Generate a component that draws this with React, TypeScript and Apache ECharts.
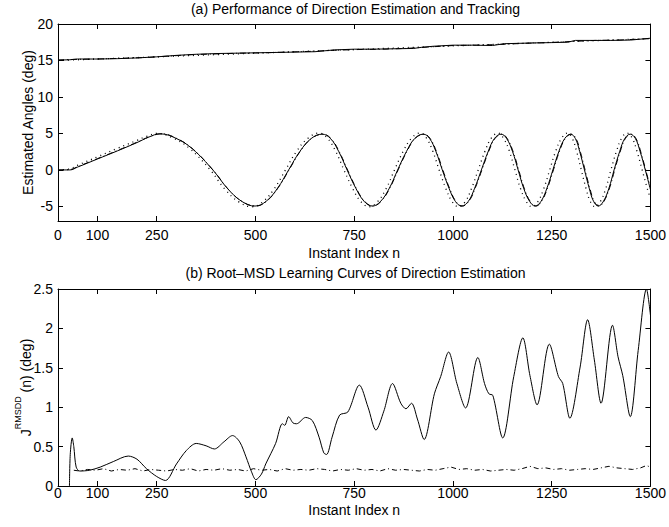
import React, { useEffect, useRef } from 'react';
import * as echarts from 'echarts';

const FONT = '"Liberation Sans", Arial, Helvetica, sans-serif';

const xTicks = [0, 100, 250, 500, 750, 1000, 1250, 1500];
const yTicksTop = [-5, 0, 5, 10, 15, 20];
const yTicksBottom = [0, 0.5, 1, 1.5, 2, 2.5];

const titleTop = '(a) Performance of Direction Estimation and Tracking';
const titleBottom = '(b) Root\u2013MSD Learning Curves of Direction Estimation';
const xName = 'Instant Index n';
const yNameTop = 'Estimated Angles (deg)';

// upper trajectory (about 15 -> 18 deg)
const upperSolid = [
  [0, 15.05], [30, 15.1], [50, 15.2], [100, 15.2], [150, 15.25], [200, 15.35], [250, 15.5],
  [300, 15.7], [350, 15.85], [400, 15.95], [450, 16.0], [500, 16.05], [550, 16.1], [600, 16.15],
  [650, 16.2], [700, 16.45], [750, 16.55], [800, 16.55], [850, 16.6], [900, 16.65], [920, 16.8],
  [950, 16.95], [1000, 17.1], [1050, 17.1], [1100, 17.05], [1130, 17.3], [1200, 17.4], [1250, 17.45],
  [1290, 17.5], [1310, 17.75], [1400, 17.75], [1450, 17.8], [1500, 18.05],
];
const upperDash = [
  [0, 15.05], [40, 15.15], [100, 15.2], [160, 15.3], [220, 15.4], [280, 15.6], [340, 15.8],
  [400, 15.9], [460, 16.0], [520, 16.05], [580, 16.15], [640, 16.25], [700, 16.4], [760, 16.5],
  [820, 16.55], [880, 16.65], [940, 16.85], [1000, 17.05], [1060, 17.1], [1120, 17.2], [1180, 17.35],
  [1240, 17.45], [1300, 17.6], [1360, 17.75], [1420, 17.8], [1480, 17.95], [1500, 18.0],
];
const upperDot = [
  [0, 15.0], [250, 15.5], [500, 16.0], [750, 16.5], [1000, 17.0], [1250, 17.5], [1500, 18.0],
];

// lower trajectory (oscillating between -5 and 5 deg)
const lowerSolid = [
  [0, 0], [30, 0], [50, 0.4], [100, 1.5], [150, 2.6], [200, 3.75], [230, 4.5], [258, 4.95],
  [300, 4.3], [340, 2.9], [392, 0], [430, -2.6], [465, -4.3], [499, -4.95], [527, -4.3], [556, -2.5],
  [584, 0], [612, 2.5], [641, 4.3], [669, 4.9], [690, 4.3], [711, 2.5], [732, 0], [754, -2.5],
  [775, -4.3], [796, -4.95], [817, -4.3], [839, -2.5], [860, 0], [882, 2.5], [903, 4.3], [925, 4.9],
  [941, 4.3], [957, 2.5], [973, 0], [990, -2.5], [1006, -4.3], [1022, -4.95], [1039, -4.3], [1055, -2.5],
  [1072, 0], [1089, 2.5], [1105, 4.3], [1122, 4.9], [1136, 4.3], [1151, 2.5], [1165, 0], [1179, -2.5],
  [1194, -4.3], [1208, -4.95], [1223, -4.3], [1238, -2.5], [1253, 0], [1268, 2.5], [1283, 4.3], [1298, 4.9],
  [1310, 4.3], [1321, 2.5], [1333, 0], [1345, -2.5], [1356, -4.3], [1368, -4.95], [1381, -4.3], [1395, -2.5],
  [1408, 0], [1422, 2.5], [1435, 4.3], [1449, 4.9], [1462, 4.3], [1474, 2.5], [1487, 0], [1500, -2.7],
];
const lowerDash = [
  [0, 0], [30, 0.05], [50, 0.45], [100, 1.55], [150, 2.65], [200, 3.8], [232, 4.55], [262, 4.95],
  [303, 4.25], [343, 2.8], [394, -0.1], [432, -2.7], [467, -4.35], [501, -4.95], [529, -4.25], [558, -2.4],
  [586, 0.1], [614, 2.6], [643, 4.35], [671, 4.9], [692, 4.25], [713, 2.4], [734, -0.1], [756, -2.6],
  [777, -4.35], [798, -4.95], [819, -4.25], [841, -2.4], [862, 0.1], [884, 2.6], [905, 4.35], [927, 4.9],
  [943, 4.25], [959, 2.4], [975, -0.1], [992, -2.6], [1008, -4.35], [1024, -4.95], [1041, -4.25], [1057, -2.4],
  [1074, 0.1], [1091, 2.6], [1107, 4.35], [1124, 4.9], [1138, 4.25], [1153, 2.4], [1167, -0.1], [1181, -2.6],
  [1196, -4.35], [1210, -4.95], [1225, -4.25], [1240, -2.4], [1255, 0.1], [1270, 2.6], [1285, 4.35], [1300, 4.9],
  [1312, 4.25], [1323, 2.4], [1335, -0.1], [1347, -2.6], [1358, -4.35], [1370, -4.95], [1383, -4.25], [1397, -2.4],
  [1410, 0.1], [1424, 2.6], [1437, 4.35], [1451, 4.9], [1464, 4.25], [1476, 2.4], [1489, -0.2], [1500, -2.4],
];
const lowerDot = [
  [0, 0], [30, 0.15], [50, 0.65], [100, 1.8], [150, 2.95], [200, 4.05], [224, 4.6], [250, 5.0],
  [292, 4.35], [332, 3.0], [384, 0.1], [422, -2.6], [457, -4.35], [491, -5.05], [519, -4.35], [548, -2.55],
  [576, 0], [604, 2.55], [633, 4.35], [661, 5.05], [682, 4.35], [703, 2.55], [724, 0], [746, -2.55],
  [767, -4.35], [788, -5.05], [809, -4.35], [831, -2.55], [852, 0], [874, 2.55], [895, 4.35], [917, 5.05],
  [933, 4.35], [949, 2.55], [965, 0], [982, -2.55], [998, -4.35], [1014, -5.05], [1031, -4.35], [1047, -2.55],
  [1064, 0], [1081, 2.55], [1097, 4.35], [1114, 5.05], [1128, 4.35], [1143, 2.55], [1157, 0], [1171, -2.55],
  [1186, -4.35], [1200, -5.05], [1215, -4.35], [1230, -2.55], [1245, 0], [1260, 2.55], [1275, 4.35], [1290, 5.05],
  [1302, 4.35], [1313, 2.55], [1325, 0], [1337, -2.55], [1348, -4.35], [1360, -5.05], [1373, -4.35], [1387, -2.55],
  [1400, 0], [1414, 2.55], [1427, 4.35], [1441, 5.05], [1454, 4.35], [1466, 2.55], [1479, 0], [1492, -2.55], [1500, -3.9],
];

// root-MSD learning curves
const rmsdSolid = [
  [29, 0], [31, 0.4], [36, 0.61], [40, 0.5], [46, 0.24], [55, 0.19], [80, 0.2], [107, 0.24], [140, 0.31],
  [178, 0.38], [200, 0.34], [224, 0.22], [250, 0.12], [272, 0.07], [300, 0.28], [325, 0.45], [350, 0.54],
  [375, 0.51], [396, 0.47], [420, 0.56], [442, 0.64], [460, 0.56], [476, 0.37], [490, 0.18], [501, 0.08],
  [515, 0.15], [526, 0.28], [551, 0.54], [568, 0.79], [574, 0.77], [584, 0.88], [595, 0.8], [604, 0.79],
  [627, 0.87], [644, 0.83], [661, 0.62], [673, 0.42], [680, 0.4], [694, 0.62], [713, 0.9], [734, 0.94],
  [763, 1.28], [785, 1.0], [805, 0.71], [825, 0.95], [847, 1.3], [868, 1.05], [881, 0.98], [895, 1.05],
  [910, 0.85], [927, 0.59], [953, 1.17], [969, 1.39], [989, 1.7], [1010, 1.3], [1032, 0.99], [1063, 1.63],
  [1080, 1.3], [1091, 1.17], [1101, 1.15], [1126, 0.61], [1154, 1.39], [1177, 1.88], [1195, 1.4], [1213, 1.03],
  [1244, 1.8], [1267, 1.39], [1278, 1.3], [1296, 0.86], [1322, 1.51], [1341, 2.11], [1358, 1.6], [1375, 1.05],
  [1404, 2.04], [1418, 1.64], [1430, 1.4], [1449, 0.88], [1469, 1.72], [1490, 2.5], [1500, 2.17],
];
const rmsdDash = [
  [40, 0.2], [55, 0.19], [75, 0.21], [95, 0.2], [115, 0.22], [135, 0.19], [155, 0.21], [175, 0.2],
  [195, 0.22], [215, 0.19], [235, 0.21], [255, 0.2], [275, 0.19], [295, 0.21], [315, 0.2], [335, 0.22],
  [355, 0.19], [375, 0.21], [395, 0.2], [415, 0.22], [435, 0.2], [455, 0.21], [475, 0.19], [495, 0.22],
  [515, 0.2], [535, 0.21], [555, 0.19], [575, 0.22], [595, 0.2], [615, 0.21], [635, 0.2], [655, 0.22],
  [675, 0.21], [695, 0.19], [715, 0.21], [735, 0.2], [755, 0.22], [775, 0.2], [795, 0.21], [815, 0.19],
  [835, 0.22], [855, 0.2], [875, 0.21], [895, 0.2], [915, 0.19], [935, 0.21], [955, 0.2], [975, 0.22],
  [995, 0.24], [1015, 0.21], [1035, 0.22], [1055, 0.2], [1075, 0.21], [1095, 0.19], [1115, 0.2], [1135, 0.21],
  [1155, 0.2], [1175, 0.22], [1195, 0.25], [1215, 0.22], [1235, 0.23], [1255, 0.21], [1275, 0.22], [1295, 0.2],
  [1315, 0.21], [1335, 0.22], [1355, 0.21], [1375, 0.23], [1395, 0.25], [1415, 0.23], [1435, 0.22], [1455, 0.21],
  [1475, 0.23], [1490, 0.26], [1500, 0.24],
];

const axisLine = { show: true, onZero: false, lineStyle: { color: '#000', width: 1 } };
const labelStyle = { fontFamily: FONT, fontSize: 14, color: '#000' };
const fmt = (v: number) => String(v);

function xAxis(gridIndex: number, position: 'top' | 'bottom', withLabels: boolean, margin: number, nameGap: number, lh: number) {
  return {
    type: 'value', gridIndex, position, min: 0, max: 1500,
    axisLine,
    axisTick: { show: true, inside: true, length: 5, customValues: xTicks, lineStyle: { color: '#000' } },
    axisLabel: withLabels ? { show: true, customValues: xTicks, margin, formatter: fmt, lineHeight: lh, ...labelStyle } : { show: false },
    splitLine: { show: false },
    name: withLabels ? xName : '',
    nameLocation: 'middle', nameGap, nameMoveOverlap: false,
    nameTextStyle: { ...labelStyle, lineHeight: lh },
  };
}

function yAxis(gridIndex: number, position: 'left' | 'right', min: number, max: number, ticks: number[], withLabels: boolean, name: any, nameExtra: any) {
  return {
    type: 'value', gridIndex, position, min, max,
    axisLine,
    axisTick: { show: true, inside: true, length: 5, customValues: ticks, lineStyle: { color: '#000' } },
    axisLabel: withLabels ? { show: true, customValues: ticks, margin: 5, formatter: fmt, ...labelStyle } : { show: false },
    splitLine: { show: false },
    name: withLabels ? name : '',
    nameLocation: 'middle', nameRotate: 90, nameMoveOverlap: false,
    ...nameExtra,
  };
}

function line(data: number[][], xi: number, yi: number, type: any, width: number, smooth: any) {
  return {
    type: 'line', data, xAxisIndex: xi, yAxisIndex: yi, showSymbol: false, symbol: 'none', smooth,
    lineStyle: { color: '#000', width, type }, silent: true,
  };
}

export default function App() {
  const ref = useRef<HTMLDivElement>(null);
  useEffect(() => {
    const chart = echarts.init(ref.current!, null, { renderer: 'svg' });
    const option: any = {
      animation: false,
      backgroundColor: '#fff',
      grid: [
        { left: 58, right: 16, top: 24, height: 197 },
        { left: 58, right: 16, top: 289, height: 197 },
      ],
      xAxis: [
        xAxis(0, 'bottom', true, 6, 24, 16),
        xAxis(0, 'top', false, 6, 24, 16),
        xAxis(1, 'bottom', true, 0, 17, 14),
        xAxis(1, 'top', false, 0, 17, 14),
      ],
      yAxis: [
        yAxis(0, 'left', -7, 20, yTicksTop, true, yNameTop, { nameGap: 23, nameTextStyle: labelStyle }),
        yAxis(0, 'right', -7, 20, yTicksTop, false, '', {}),
        yAxis(1, 'left', 0, 2.5, yTicksBottom, true, '{j|J}{s|RMSDD}{t| (n) (deg)}', {
          nameGap: 25,
          nameTextStyle: {
            ...labelStyle,
            rich: {
              j: { fontFamily: FONT, fontSize: 14, color: '#000', lineHeight: 20, verticalAlign: 'bottom' },
              s: { fontFamily: FONT, fontSize: 9, color: '#000', lineHeight: 10, verticalAlign: 'top' },
              t: { fontFamily: FONT, fontSize: 14, color: '#000', lineHeight: 20, verticalAlign: 'bottom' },
            },
          },
        }),
        yAxis(1, 'right', 0, 2.5, yTicksBottom, false, '', {}),
      ],
      graphic: [
        { type: 'text', x: 355.5, y: 8.5, style: { text: titleTop, font: `14px ${FONT}`, fill: '#000', align: 'center', verticalAlign: 'middle' } },
        { type: 'text', x: 355.5, y: 272.5, style: { text: titleBottom, font: `14px ${FONT}`, fill: '#000', align: 'center', verticalAlign: 'middle' } },
      ],
      series: [
        line(upperDot, 0, 0, [1, 4], 1.3, false),
        line(upperDash, 0, 0, [6, 3, 1, 3], 1, false),
        line(upperSolid, 0, 0, 'solid', 1, false),
        line(lowerDot, 0, 0, [1, 4], 1.3, 0.4),
        line(lowerDash, 0, 0, [6, 3, 1, 3], 1, 0.4),
        line(lowerSolid, 0, 0, 'solid', 1, 0.4),
        line(rmsdDash, 2, 2, [5, 3, 1, 3], 1, false),
        line(rmsdSolid, 2, 2, 'solid', 1, 0.3),
      ],
    };
    chart.setOption(option);
    return () => chart.dispose();
  }, []);
  return <div ref={ref} style={{ position: 'fixed', left: 0, top: 0, width: 669, height: 527, background: '#fff' }} />;
}
